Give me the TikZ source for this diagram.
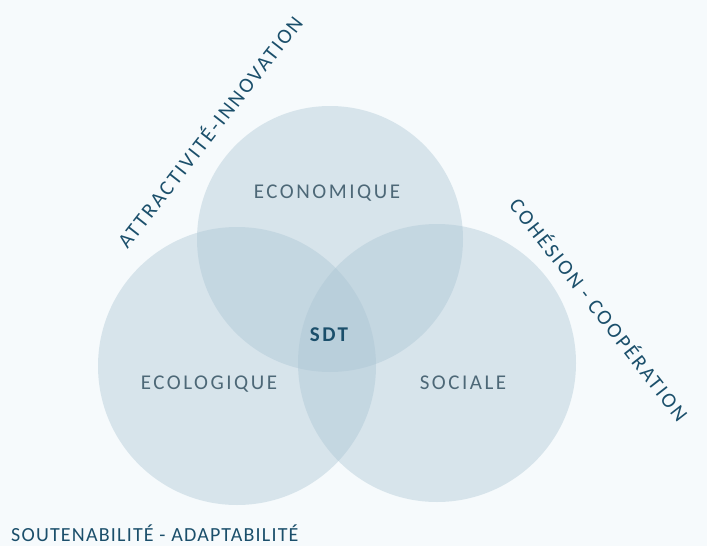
\documentclass[tikz,border=0pt]{standalone}
\usepackage{fontspec}
\setmainfont{Carlito}
\newfontfamily\widefont[LetterSpace=12]{Carlito}
\newfontfamily\axisfont[LetterSpace=11]{Carlito}
\newfontfamily\basefont[LetterSpace=6]{Carlito}
\usetikzlibrary{arrows,shapes}
\definecolor{bgcol}{HTML}{F6FAFC}
\definecolor{circcol}{HTML}{A9C4D3}
\definecolor{titlecol}{HTML}{1B4F6B}
\definecolor{labelcol}{HTML}{4D6877}
\tikzstyle{pillar}=[circle,fill=circcol,fill opacity=0.4,inner sep=0pt]
\tikzstyle{pillarlabel}=[text=labelcol,inner sep=0pt,anchor=base,font=\widefont\fontsize{21}{24}\selectfont]
\tikzstyle{axislabel}=[text=titlecol,inner sep=0pt,font=\axisfont\fontsize{21}{24}\selectfont]

\begin{document}
\begin{tikzpicture}[x=1pt,y=-1pt]

    \fill[bgcol] (0,0) rectangle (707,546);
    \useasboundingbox (0,0) rectangle (707,546);

    \foreach \pos/\name/\size in {{(330,239)/eco/266}, {(237,366)/ecol/278}, {(437,363)/soc/278}}
        \node[pillar, minimum size=\size pt] (\name) at \pos {};

       \node[pillarlabel] (ecolabel) at (327,198) {ECONOMIQUE};
       \node[pillarlabel] (ecollabel) at (209,389) {ECOLOGIQUE};
       \node[pillarlabel] (soclabel) at (463,389) {SOCIALE};
       \node[pillarlabel, text=titlecol, font=\widefont\bfseries\fontsize{21}{24}\selectfont] (sdt) at (329,341) {SDT};

      \node[axislabel, rotate=52] (attr) at (209,131) {ATTRACTIVITÉ-INNOVATION};
      \node[axislabel, rotate=-52] (coh) at (600,309) {COHÉSION - COOPÉRATION};
      \node[axislabel, anchor=base west, font=\basefont\fontsize{20}{24}\selectfont] (sout) at (11,541) {SOUTENABILITÉ - ADAPTABILITÉ};

   \end{tikzpicture}
\end{document}
